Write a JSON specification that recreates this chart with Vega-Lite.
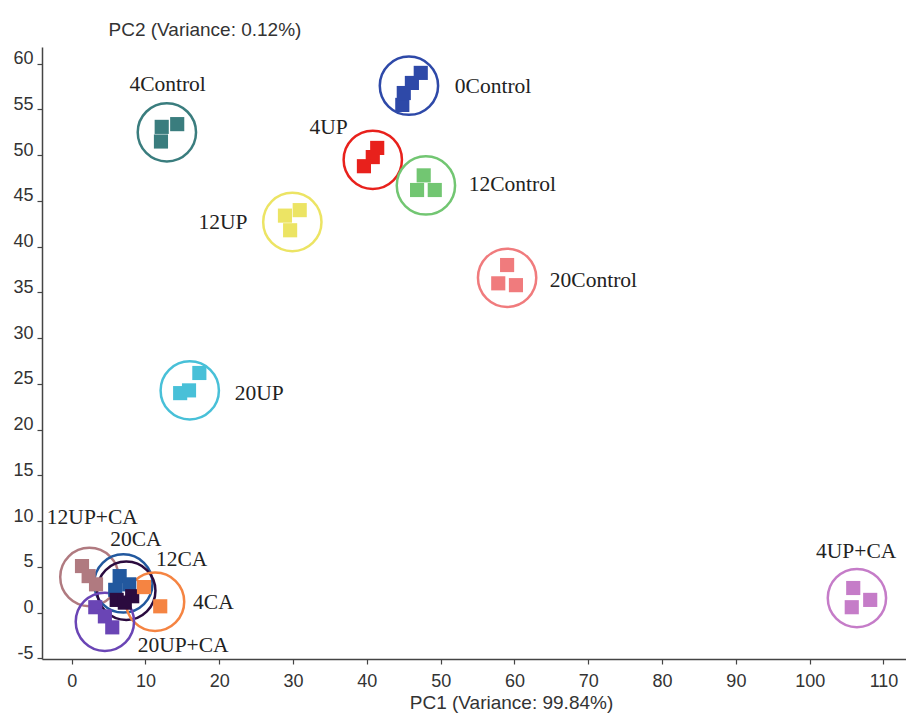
{
  "$schema": "https://vega.github.io/schema/vega-lite/v6.json",
  "width": 864,
  "height": 612,
  "autosize": {"type": "none"},
  "padding": {"left": 42, "top": 47, "right": 0, "bottom": 54},
  "background": "white",
  "config": {"view": {"stroke": null}},
  "datasets": {
    "points": [
      {"group": "0Control", "pc1": 44.8, "pc2": 55.5},
      {"group": "0Control", "pc1": 45.0, "pc2": 56.8},
      {"group": "0Control", "pc1": 46.1, "pc2": 57.9},
      {"group": "0Control", "pc1": 47.3, "pc2": 59.0},
      {"group": "4Control", "pc1": 12.2, "pc2": 53.1},
      {"group": "4Control", "pc1": 12.1, "pc2": 51.5},
      {"group": "4Control", "pc1": 14.3, "pc2": 53.4},
      {"group": "4UP", "pc1": 41.4, "pc2": 50.8},
      {"group": "4UP", "pc1": 40.8, "pc2": 49.8},
      {"group": "4UP", "pc1": 39.6, "pc2": 48.8},
      {"group": "12Control", "pc1": 47.7, "pc2": 47.8},
      {"group": "12Control", "pc1": 46.8, "pc2": 46.2},
      {"group": "12Control", "pc1": 49.2, "pc2": 46.2},
      {"group": "12UP", "pc1": 28.9, "pc2": 43.4},
      {"group": "12UP", "pc1": 29.6, "pc2": 41.8},
      {"group": "12UP", "pc1": 30.9, "pc2": 44.0},
      {"group": "20Control", "pc1": 59.0, "pc2": 38.0},
      {"group": "20Control", "pc1": 57.8, "pc2": 36.0},
      {"group": "20Control", "pc1": 60.2, "pc2": 35.8},
      {"group": "20UP", "pc1": 14.7, "pc2": 24.0},
      {"group": "20UP", "pc1": 15.9, "pc2": 24.3},
      {"group": "20UP", "pc1": 17.3, "pc2": 26.2},
      {"group": "4UP+CA", "pc1": 105.9, "pc2": 2.7},
      {"group": "4UP+CA", "pc1": 108.2, "pc2": 1.4},
      {"group": "4UP+CA", "pc1": 105.7, "pc2": 0.6},
      {"group": "12UP+CA", "pc1": 1.4, "pc2": 5.1},
      {"group": "12UP+CA", "pc1": 2.3, "pc2": 4.0},
      {"group": "12UP+CA", "pc1": 3.3, "pc2": 3.1},
      {"group": "20CA", "pc1": 6.5, "pc2": 4.0},
      {"group": "20CA", "pc1": 7.8, "pc2": 3.1},
      {"group": "20CA", "pc1": 5.9, "pc2": 2.5},
      {"group": "12CA", "pc1": 6.1, "pc2": 1.4},
      {"group": "12CA", "pc1": 8.2, "pc2": 1.8},
      {"group": "12CA", "pc1": 7.2, "pc2": 1.1},
      {"group": "4CA", "pc1": 9.8, "pc2": 2.8},
      {"group": "4CA", "pc1": 12.0, "pc2": 0.7},
      {"group": "20UP+CA", "pc1": 3.2, "pc2": 0.6},
      {"group": "20UP+CA", "pc1": 4.5, "pc2": -0.4},
      {"group": "20UP+CA", "pc1": 5.5, "pc2": -1.6}
    ],
    "groups": [
      {"group": "0Control", "pc1": 45.7, "pc2": 57.6, "label_pc1": 57.1, "label_pc2": 57.5},
      {"group": "4Control", "pc1": 12.9, "pc2": 52.5, "label_pc1": 13.0, "label_pc2": 57.7},
      {"group": "4UP", "pc1": 40.8, "pc2": 49.5, "label_pc1": 34.8, "label_pc2": 53.0},
      {"group": "12Control", "pc1": 48.0, "pc2": 46.7, "label_pc1": 59.7, "label_pc2": 46.7},
      {"group": "12UP", "pc1": 29.9, "pc2": 42.7, "label_pc1": 20.5, "label_pc2": 42.6},
      {"group": "20Control", "pc1": 59.0, "pc2": 36.6, "label_pc1": 70.7, "label_pc2": 36.3},
      {"group": "20UP", "pc1": 16.0, "pc2": 24.3, "label_pc1": 25.4, "label_pc2": 23.9},
      {"group": "4UP+CA", "pc1": 106.4, "pc2": 1.6, "label_pc1": 106.3, "label_pc2": 6.6},
      {"group": "12UP+CA", "pc1": 2.4, "pc2": 3.9, "label_pc1": 2.8, "label_pc2": 10.4},
      {"group": "20CA", "pc1": 7.0, "pc2": 3.2, "label_pc1": 8.7, "label_pc2": 7.9},
      {"group": "12CA", "pc1": 7.4, "pc2": 2.4, "label_pc1": 14.9, "label_pc2": 5.8},
      {"group": "4CA", "pc1": 11.3, "pc2": 1.2, "label_pc1": 19.2, "label_pc2": 1.1},
      {"group": "20UP+CA", "pc1": 4.5, "pc2": -1.0, "label_pc1": 15.1, "label_pc2": -3.6}
    ]
  },
  "encoding": {
    "x": {
      "field": "pc1", "type": "quantitative",
      "scale": {"domain": [-4.02, 113.05], "nice": false, "zero": false},
      "axis": {
        "title": "PC1 (Variance: 99.84%)",
        "values": [0, 10, 20, 30, 40, 50, 60, 70, 80, 90, 100, 110],
        "grid": false,
        "domainColor": "#444", "domainWidth": 1.5,
        "tickColor": "#444", "tickSize": 5, "tickWidth": 1.2,
        "labelFont": "Liberation Sans", "labelFontSize": 18, "labelColor": "#333",
        "labelPadding": 8,
        "titleFont": "Liberation Sans", "titleFontSize": 19, "titleFontWeight": "normal", "titleColor": "#333",
        "titleX": 469, "titleY": 49, "titleAlign": "center", "titleBaseline": "alphabetic"
      }
    },
    "y": {
      "field": "pc2", "type": "quantitative",
      "scale": {"domain": [-5.06, 61.83], "nice": false, "zero": false},
      "axis": {
        "title": "PC2 (Variance: 0.12%)",
        "values": [-5, 0, 5, 10, 15, 20, 25, 30, 35, 40, 45, 50, 55, 60],
        "labelExpr": "datum.value < 0 ? '-' + abs(datum.value) : datum.label",
        "grid": false,
        "domainColor": "#444", "domainWidth": 1.5,
        "tickColor": "#444", "tickSize": 5, "tickWidth": 1.2,
        "labelFont": "Liberation Sans", "labelFontSize": 18, "labelColor": "#333",
        "labelPadding": 4, "labelBaseline": "alphabetic",
        "titleFont": "Liberation Sans", "titleFontSize": 19, "titleFontWeight": "normal", "titleColor": "#333",
        "titleAngle": 0, "titleX": 66, "titleY": -12, "titleAlign": "left", "titleBaseline": "alphabetic"
      }
    },
    "color": {
      "field": "group", "type": "nominal", "legend": null,
      "scale": {
        "domain": ["0Control", "4Control", "4UP", "12Control", "12UP", "20Control", "20UP", "4UP+CA", "12UP+CA", "20CA", "12CA", "4CA", "20UP+CA"],
        "range": ["#2e49a8", "#3a7d7e", "#e8211c", "#72c672", "#ece464", "#f07b7d", "#48c0d8", "#c57cc8", "#b07a80", "#22589e", "#2b0b3f", "#f58442", "#6a45b5"]
      }
    }
  },
  "layer": [
    {
      "data": {"name": "groups"},
      "mark": {"type": "point", "shape": "circle", "filled": false, "size": 3400, "strokeWidth": 2.5, "opacity": 1}
    },
    {
      "data": {"name": "points"},
      "mark": {"type": "square", "size": 200, "opacity": 1}
    },
    {
      "data": {"name": "groups"},
      "mark": {"type": "text", "font": "Liberation Serif", "fontSize": 21.5, "color": "#222", "baseline": "middle", "align": "center"},
      "encoding": {
        "x": {"field": "label_pc1", "type": "quantitative"},
        "y": {"field": "label_pc2", "type": "quantitative"},
        "text": {"field": "group"},
        "color": {"value": "#222"}
      }
    }
  ]
}
